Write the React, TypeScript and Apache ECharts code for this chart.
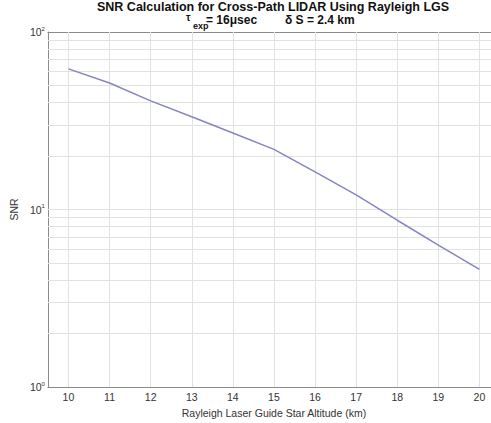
import React, { useEffect, useRef } from "react";
import * as echarts from "echarts";

const altitudes = [10, 11, 12, 13, 14, 15, 16, 17, 18, 19, 20];
const snr = [62, 51.6, 40.9, 33.3, 27, 21.8, 16.3, 12.1, 8.7, 6.3, 4.6];
const xTicks = [10, 11, 12, 13, 14, 15, 16, 17, 18, 19, 20];
const yMinorGrid = [2, 3, 4, 5, 6, 7, 8, 9, 10, 20, 30, 40, 50, 60, 70, 80, 90];
const titleLine1 = "SNR Calculation for Cross-Path LIDAR Using Rayleigh LGS";
const titleTau = "\u03c4";
const titleSub = "exp";
const titleExposure = "= 16\u03bcsec";
const titleDelta = "\u03b4 S = 2.4 km";
const xName = "Rayleigh Laser Guide Star Altitude (km)";
const yName = "SNR";

const FONT = "Liberation Sans, Arial, Helvetica, sans-serif";
const AXIS_COLOR = "#8a8a8a";
const GRID_COLOR = "#e2e2e2";
const TEXT_COLOR = "#333";

export default function App() {
  const ref = useRef<HTMLDivElement>(null);
  useEffect(() => {
    if (!ref.current) return;
    const chart = echarts.init(ref.current, null, { renderer: "svg" });
    const data = altitudes.map((x, i) => [x, snr[i]]);
    chart.setOption({
      animation: false,
      textStyle: { fontFamily: FONT },
      grid: { left: 43, top: 32, bottom: 36, right: 0 },
      graphic: [
        {
          type: "text",
          x: 97,
          y: 0,
          style: { text: titleLine1, font: `bold 12.5px ${FONT}`, fill: "#111", lineHeight: 13 },
        },
        {
          type: "text",
          x: 186,
          y: 14,
          style: { text: titleTau, font: `bold 10px ${FONT}`, fill: "#111", lineHeight: 7 },
        },
        {
          type: "text",
          x: 193,
          y: 21,
          style: { text: titleSub, font: `bold 9px ${FONT}`, fill: "#111", lineHeight: 9 },
        },
        {
          type: "text",
          x: 206,
          y: 13.5,
          style: { text: titleExposure, font: `bold 12px ${FONT}`, fill: "#111", lineHeight: 12 },
        },
        {
          type: "text",
          x: 285,
          y: 13.5,
          style: { text: titleDelta, font: `bold 12px ${FONT}`, fill: "#111", lineHeight: 12 },
        },
      ],
      xAxis: [
        {
          type: "value",
          min: 9.5,
          max: 20.5,
          position: "bottom",
          name: xName,
          nameLocation: "middle",
          nameGap: 20,
          nameTextStyle: { fontSize: 10.5, color: TEXT_COLOR, fontFamily: FONT },
          axisLine: { show: true, lineStyle: { color: AXIS_COLOR, width: 1 } },
          axisTick: { show: true, inside: true, length: 4, customValues: xTicks, lineStyle: { color: AXIS_COLOR } },
          axisLabel: { customValues: xTicks, fontSize: 10.5, color: TEXT_COLOR, margin: 4, fontFamily: FONT },
          splitLine: { show: false },
        },
        {
          type: "value",
          min: 9.5,
          max: 20.5,
          position: "top",
          axisLine: { show: true, lineStyle: { color: AXIS_COLOR, width: 1 } },
          axisTick: { show: true, inside: true, length: 4, customValues: xTicks, lineStyle: { color: AXIS_COLOR } },
          axisLabel: { show: false },
          splitLine: { show: false },
        },
      ],
      yAxis: {
        type: "log",
        logBase: 10,
        min: 1,
        max: 100,
        name: yName,
        nameLocation: "middle",
        nameGap: 16,
        nameTextStyle: { fontSize: 10.5, color: TEXT_COLOR, fontFamily: FONT },
        axisLine: { show: true, lineStyle: { color: AXIS_COLOR, width: 1 } },
        axisTick: { show: true, inside: true, length: 4, lineStyle: { color: AXIS_COLOR } },
        axisLabel: {
          margin: 3,
          fontSize: 10.5,
          color: TEXT_COLOR,
          fontFamily: FONT,
          formatter: (v: number) => "10{s|" + Math.round(Math.log10(v)) + "}",
          rich: {
            s: { fontSize: 6, color: TEXT_COLOR, padding: [0, 0, 7, 0], fontFamily: FONT },
          },
        },
        splitLine: { show: false },
      },
      series: [
        {
          type: "line",
          data,
          z: 1,
          silent: true,
          symbol: "none",
          lineStyle: { opacity: 0 },
          markLine: {
            silent: true,
            z: 1,
            symbol: "none",
            label: { show: false },
            lineStyle: { color: GRID_COLOR, type: "solid", width: 1 },
            data: [
              ...yMinorGrid.map((v) => ({ yAxis: v })),
              ...xTicks.map((v) => ({ xAxis: v })),
            ],
          },
        },
        {
          type: "line",
          data,
          z: 3,
          symbol: "none",
          lineStyle: { color: "#8585c4", width: 1.5 },
        },
      ],
    });
    return () => chart.dispose();
  }, []);
  return (
    <div
      ref={ref}
      style={{ position: "fixed", left: 0, top: 0, width: 500, height: 423, background: "#fff" }}
    />
  );
}
